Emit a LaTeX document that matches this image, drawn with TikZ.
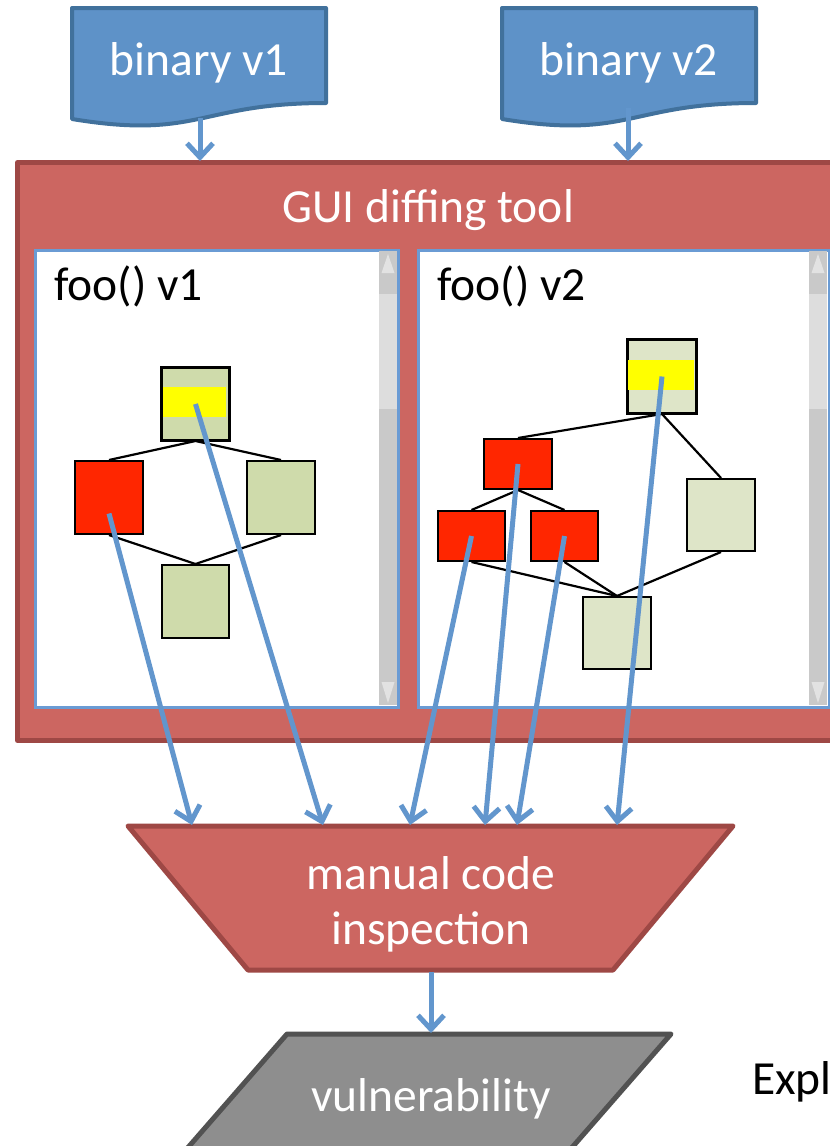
\documentclass[tikz,border=0pt]{standalone}
\usepackage{fontspec}
\setmainfont{Carlito}
\usetikzlibrary{arrows.meta,calc}
\definecolor{docfill}{RGB}{94,146,200}
\definecolor{docline}{RGB}{65,113,156}
\definecolor{arrowblue}{RGB}{98,150,205}
\definecolor{redfill}{RGB}{204,102,97}
\definecolor{redline}{RGB}{158,72,69}
\definecolor{panelline}{RGB}{106,155,212}
\definecolor{greenA}{RGB}{207,219,171}
\definecolor{greenB}{RGB}{222,229,200}
\definecolor{hotred}{RGB}{255,38,0}
\definecolor{hiyellow}{RGB}{255,255,0}
\definecolor{greyfill}{RGB}{142,142,142}
\definecolor{greyline}{RGB}{82,82,82}
\definecolor{sbtrack}{RGB}{201,201,201}
\definecolor{sbthumb}{RGB}{221,221,221}
\definecolor{sbtri}{RGB}{226,226,226}
\tikzset{
  bigtext/.style={font=\fontsize{47.5}{56}\selectfont, inner sep=0pt},
  doc/.style={fill=docfill, draw=docline, line width=4pt, line join=round},
  flow/.style={draw=arrowblue, line width=5pt, -{Straight Barb[length=14pt,width=26pt]}},
  redshape/.style={fill=redfill, draw=redline, line width=5pt, line join=round},
  panel/.style={fill=white, draw=panelline, line width=2pt, inner sep=0pt, anchor=north west},
  blk/.style={draw=black, line width=2pt, inner sep=0pt, anchor=north west},
  edge/.style={draw=black, line width=2.2pt},
}
\newcommand{\docshape}[3]{% x0, x1, top
  \path[doc] (#1,#3) -- (#2,#3) -- (#2,#3+95)
    .. controls ({(#1+#2)/2},#3+95) and ({(#1+#2)/2},#3+132) .. (#1,#3+111) -- cycle;}
\newcommand{\scrollbar}[1]{% x left
  \fill[sbtrack] (#1,251) rectangle (#1+18,705);
  \fill[sbthumb] (#1,294) rectangle (#1+18,409);
  \fill[sbtri] (#1+9,254) -- (#1+2.5,273) -- (#1+15.5,273) -- cycle;
  \fill[sbtri] (#1+9,703) -- (#1+2.5,682) -- (#1+15.5,682) -- cycle;}
\begin{document}
\begin{tikzpicture}[x=1pt,y=-1pt]
\clip (0,0) rectangle (830,1146);
\fill[white] (0,0) rectangle (830,1146);

% input documents
\docshape{72}{326}{8}
\docshape{502}{756}{8}
\node[bigtext, text=white, anchor=base] (bin1) at (199,75) {binary v1};
\node[bigtext, text=white, anchor=base] (bin2) at (629,75) {binary v2};
\coordinate (bin1out) at (200,118);
\coordinate (bin2out) at (628,108);

% GUI diffing tool
\node[redshape, inner sep=0pt, minimum width=835pt, minimum height=578pt, anchor=north west] (gui) at (15,160) {};
\node[bigtext, text=white, anchor=base] (guititle) at (428,222) {GUI diffing tool};
\coordinate (gui1in) at (200,161);
\coordinate (gui2in) at (628,161);

% panels
\node[panel, minimum width=362pt, minimum height=456pt] (p1) at (35,250) {};
\node[panel, minimum width=410pt, minimum height=456pt] (p2) at (418,250) {};
\scrollbar{379}
\scrollbar{809}
\draw[panelline, line width=2pt] (p1.north west) rectangle (p1.south east);
\draw[panelline, line width=2pt] (p2.north west) rectangle (p2.south east);
\node[bigtext, anchor=base west] (t1) at (54,300) {foo() v1};
\node[bigtext, anchor=base west] (t2) at (437,300) {foo() v2};

% left graph
\node[blk, fill=greenA, minimum width=67pt, minimum height=72pt] (L0) at (161,367) {};
\fill[hiyellow] (163,387) rectangle (226,417);
\draw[black, line width=2pt] (L0.north west) rectangle (L0.south east);
\node[blk, fill=hotred, minimum width=68pt, minimum height=73pt] (L1) at (74,460) {};
\node[blk, fill=greenA, minimum width=68pt, minimum height=73pt] (L2) at (246,460) {};
\node[blk, fill=greenA, minimum width=67pt, minimum height=73pt] (L3) at (161,564) {};
\draw[edge] (L0.south) -- (L1.north);
\draw[edge] (L0.south) -- (L2.north);
\draw[edge] (L1.south) -- (L3.north);
\draw[edge] (L2.south) -- (L3.north);

% right graph
\node[blk, fill=greenB, minimum width=68pt, minimum height=73pt] (R0) at (627,339) {};
\fill[hiyellow] (628,360) rectangle (694,390);
\draw[black, line width=2pt] (R0.north west) rectangle (R0.south east);
\node[blk, fill=hotred, minimum width=68pt, minimum height=50pt] (R1) at (483,438) {};
\node[blk, fill=hotred, minimum width=67pt, minimum height=50pt] (R2) at (437,510) {};
\node[blk, fill=hotred, minimum width=67pt, minimum height=50pt] (R3) at (530,510) {};
\node[blk, fill=greenB, minimum width=68pt, minimum height=72pt] (R4) at (686,478) {};
\node[blk, fill=greenB, minimum width=68pt, minimum height=72pt] (R5) at (582,596) {};
\draw[edge] (R0.south) -- (R1.north);
\draw[edge] (R0.south) -- (R4.north);
\draw[edge] (R1.south) -- (R2.north);
\draw[edge] (R1.south) -- (R3.north);
\draw[edge] (R2.south) -- (R5.north);
\draw[edge] (R3.south) -- (R5.north);
\draw[edge] (R4.south) -- (R5.north);

% manual code inspection
\path[redshape] (128,826) -- (733,826) -- (613,970) -- (248,970) -- cycle;
\node[bigtext, text=white, anchor=base] (insp) at (431,889) {manual code};
\node[bigtext, text=white, anchor=base] (insp2) at (431,944) {inspection};
\coordinate (m1) at (192,825);
\coordinate (m2) at (323,825);
\coordinate (m3) at (410,825);
\coordinate (m4) at (485,825);
\coordinate (m5) at (517,825);
\coordinate (m6) at (617,825);
\coordinate (inspout) at (431,972);

% vulnerability
\path[fill=greyfill, draw=greyline, line width=5pt, line join=round]
  (287,1034) -- (671,1034) -- (548,1175) -- (164,1175) -- cycle;
\node[bigtext, text=white, anchor=base] (vuln) at (431,1111) {vulnerability};
\coordinate (vulnin) at (431,1033);
\node[bigtext, text=black, anchor=base west] (expl) at (752,1094) {Expl};

% connectors
\draw[flow] (bin1out) -- (gui1in);
\draw[flow] (bin2out) -- (gui2in);
\draw[flow] ($(L1.center)+(0,16)$) -- (m1);
\draw[flow] (L0.center) -- (m2);
\draw[flow] (R2.center) -- (m3);
\draw[flow] (R1.center) -- (m4);
\draw[flow] (R3.center) -- (m5);
\draw[flow] (R0.center) -- (m6);
\draw[flow] (inspout) -- (vulnin);
\end{tikzpicture}
\end{document}
